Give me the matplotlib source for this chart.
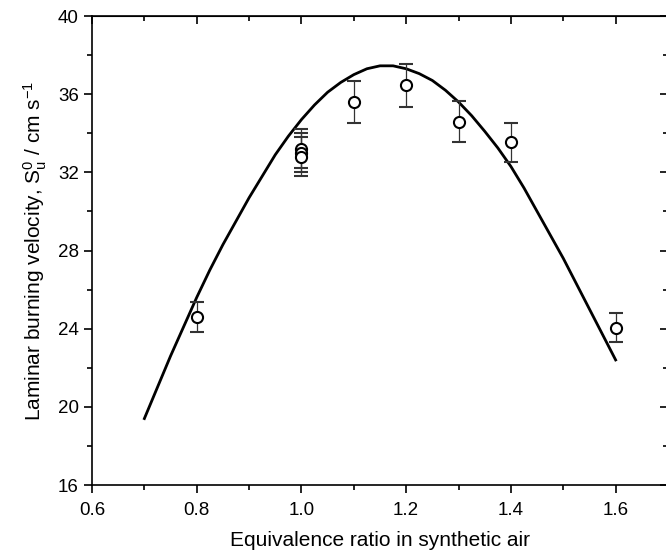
import numpy as np
import matplotlib
matplotlib.use("Agg")
import matplotlib.pyplot as plt
from matplotlib.ticker import MultipleLocator

plt.rcParams['font.family'] = ['Liberation Sans', 'DejaVu Sans']
plt.rcParams['mathtext.fontset'] = 'custom'
plt.rcParams['mathtext.rm'] = 'Liberation Sans'
plt.rcParams['mathtext.it'] = 'Liberation Sans'
plt.rcParams['mathtext.bf'] = 'Liberation Sans:bold'

# Medidas experimentales (phi, velocidad, error)
phi_exp = [0.8, 1.0, 1.0, 1.0, 1.1, 1.2, 1.3, 1.4, 1.6]
su_exp = [24.6, 33.2, 33.0, 32.8, 35.6, 36.45, 34.6, 33.55, 24.05]
su_err = [0.75, 1.0, 1.0, 1.0, 1.05, 1.1, 1.05, 1.0, 0.73]

# Curva del modelo
phi_mod = [0.700, 0.725, 0.750, 0.775, 0.800, 0.825, 0.850, 0.875, 0.900,
           0.925, 0.950, 0.975, 1.000, 1.025, 1.050, 1.075, 1.100, 1.125,
           1.150, 1.175, 1.200, 1.225, 1.250, 1.275, 1.300, 1.325, 1.350,
           1.375, 1.400, 1.425, 1.450, 1.475, 1.500, 1.525, 1.550, 1.575,
           1.600]
su_mod = [19.4, 21.0, 22.6, 24.1, 25.6, 27.0, 28.3, 29.5, 30.7,
          31.8, 32.9, 33.85, 34.7, 35.45, 36.1, 36.6, 37.0, 37.3,
          37.45, 37.45, 37.3, 37.05, 36.7, 36.2, 35.6, 34.9, 34.1,
          33.25, 32.3, 31.2, 30.0, 28.8, 27.6, 26.3, 25.0, 23.7,
          22.4]

fig = plt.figure(figsize=(6.66, 5.53), dpi=100)
ax = fig.add_axes([92/666, 1-485/553, (668-92)/666, (485-16)/553])

ax.plot(phi_mod, su_mod, color='black', lw=2.0, zorder=2)
ax.errorbar(phi_exp, su_exp, yerr=su_err, fmt='o', ms=8, mfc='white',
            mec='black', mew=1.5, ecolor='#333333', elinewidth=0.9,
            capsize=5, capthick=0.9, zorder=3)

ax.set_xlim(0.6, 1.7)
ax.set_ylim(16, 40)
ax.xaxis.set_minor_locator(MultipleLocator(0.1))
ax.yaxis.set_major_locator(MultipleLocator(4))
ax.yaxis.set_minor_locator(MultipleLocator(2))
ax.set_xticks([0.6, 0.8, 1.0, 1.2, 1.4, 1.6])
ax.set_xticklabels(['0.6', '0.8', '1.0', '1.2', '1.4', '1.6'])

for s in ax.spines.values():
    s.set_linewidth(1.2)
ax.tick_params(which='major', direction='out', length=6, width=1.2, labelsize=13.5)
ax.tick_params(axis='x', which='major', pad=6)
ax.tick_params(which='minor', direction='out', length=3.5, width=1.2)

# Ejes espejo con marcas hacia adentro
sx = ax.secondary_xaxis('top')
sx.xaxis.set_major_locator(MultipleLocator(0.2))
sx.xaxis.set_minor_locator(MultipleLocator(0.1))
sx.tick_params(which='major', direction='in', length=6, width=1.2, labeltop=False)
sx.tick_params(which='minor', direction='in', length=3.5, width=1.2)
sy = ax.secondary_yaxis('right')
sy.yaxis.set_major_locator(MultipleLocator(4))
sy.yaxis.set_minor_locator(MultipleLocator(2))
sy.tick_params(which='major', direction='in', length=6, width=1.2, labelright=False)
sy.tick_params(which='minor', direction='in', length=3.5, width=1.2)

ax.set_xlabel('Equivalence ratio in synthetic air', fontsize=15, labelpad=9)
ax.set_ylabel(r'Laminar burning velocity, S$_\mathregular{u}^\mathregular{0}$ / cm s$^\mathregular{-1}$',
              fontsize=15, labelpad=6)

fig.savefig('out.png', dpi=100)
